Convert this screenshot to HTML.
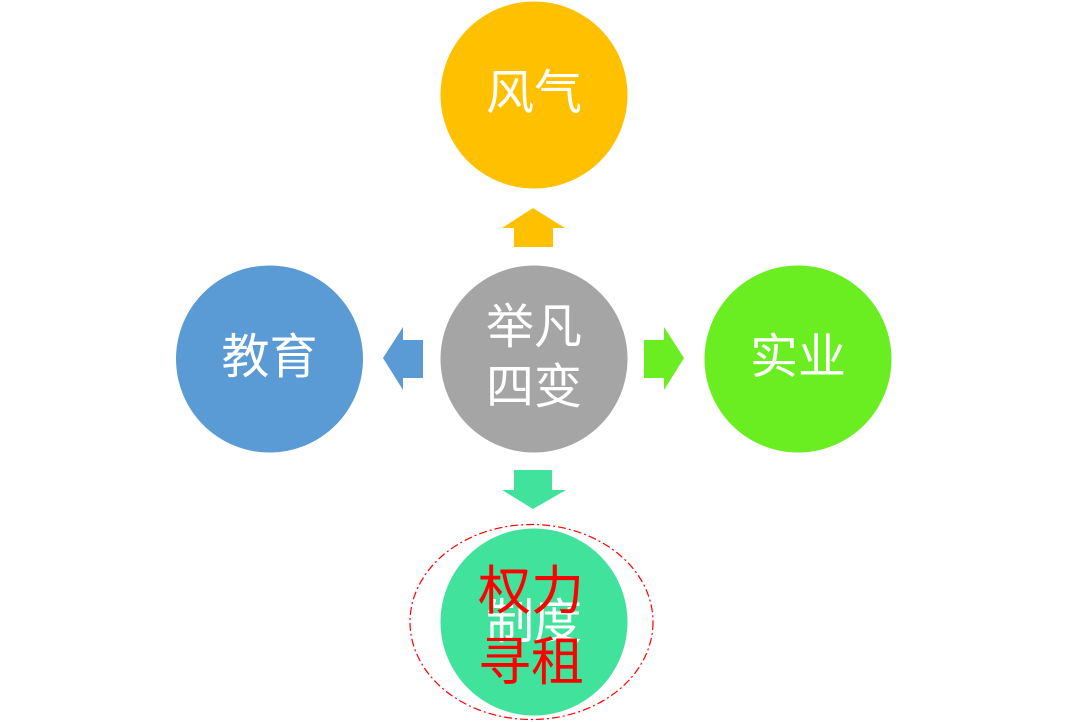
<!DOCTYPE html>
<html>
<head>
<meta charset="utf-8">
<style>
  html, body { margin:0; padding:0; background:#fff; }
  body { width:1067px; height:722px; overflow:hidden; }
  svg { display:block; }
  text { font-family: "Liberation Sans", "Noto Sans CJK SC", sans-serif; }
</style>
</head>
<body>
<svg width="1067" height="722" viewBox="0 0 1067 722" xmlns="http://www.w3.org/2000/svg">
  <rect width="1067" height="722" fill="#ffffff"/>

  <!-- Circles -->
  <circle cx="534" cy="95" r="93.5" fill="#FFC000"/>
  <circle cx="534" cy="359" r="93.5" fill="#A5A5A5"/>
  <circle cx="269.5" cy="359" r="93.5" fill="#5B9BD5"/>
  <circle cx="798" cy="359" r="93.5" fill="#6AEE22"/>
  <circle cx="534" cy="622" r="93.5" fill="#41E29B"/>

  <!-- Arrows -->
  <!-- up (yellow) -->
  <polygon points="533,208 565,228 553,228 553,247 514,247 514,228 502,228" fill="#FFC000"/>
  <!-- left (blue) -->
  <polygon points="383,358 403,327 403,340 423,340 423,378 403,378 403,390" fill="#5B9BD5"/>
  <!-- right (green) -->
  <polygon points="684,358 664,327 664,340 644,340 644,378 664,378 664,390" fill="#6AEE22"/>
  <!-- down (teal) -->
  <polygon points="533,509 566,490 552,490 552,470 514,470 514,490 502,490" fill="#41E29B"/>

  <!-- Labels -->
  <g fill="#ffffff" font-size="48" text-anchor="middle">
    <text x="534" y="109">风气</text>
    <text x="534" y="343">举凡</text>
    <text x="534" y="403">四变</text>
    <text x="269.5" y="373">教育</text>
    <text x="798" y="373">实业</text>
    <text x="534" y="638">制度</text>
  </g>

  <!-- Red overlay text -->
  <g fill="#FF0000" font-size="53" text-anchor="middle">
    <text x="531" y="609">权力</text>
    <text x="531" y="680">寻租</text>
  </g>

  <!-- Dashed ellipse -->
  <ellipse cx="531.5" cy="622" rx="121.5" ry="97.5" fill="none" stroke="#FF0000" stroke-width="1.2" stroke-dasharray="8 3 2 3"/>
</svg>
</body>
</html>
